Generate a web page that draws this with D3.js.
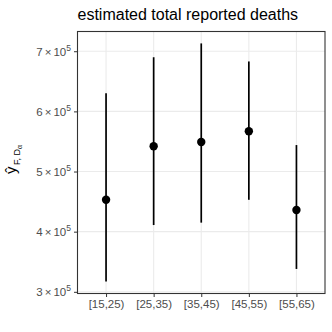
<!DOCTYPE html>
<html>
<head>
<meta charset="utf-8">
<script src="https://cdn.jsdelivr.net/npm/d3@7"></script>
<style>
  body { margin: 0; background: #fff; }
  text { font-family: "Liberation Sans", Arial, sans-serif; }
</style>
</head>
<body>
<div id="chart"></div>
<script>
// age groups and estimated deaths (point, lower, upper)
const ageGroups = ["[15,25)", "[25,35)", "[35,45)", "[45,55)", "[55,65)"];
const estimate = [453000, 542000, 549000, 567000, 436000];
const lower = [317000, 411000, 415000, 453000, 338000];
const upper = [630000, 690000, 713000, 683000, 544000];
const yTicks = [300000, 400000, 500000, 600000, 700000];

const width = 332, height = 332;
const panel = { left: 77.5, right: 325, top: 31.5, bottom: 293.5 };

const svg = d3.select("#chart").append("svg")
    .attr("width", width)
    .attr("height", height);

// ggplot style 5% expansion of the data range
const lo = d3.min(lower), hi = d3.max(upper);
const pad = (hi - lo) * 0.05;
const y = d3.scaleLinear()
    .domain([lo - pad, hi + pad])
    .range([panel.bottom, panel.top]);

const x = d3.scalePoint()
    .domain(ageGroups)
    .range([panel.left, panel.right])
    .padding(0.6);

// grid
const grid = svg.append("g");
grid.selectAll(".gy")
    .data(yTicks)
    .enter().append("line")
    .attr("x1", panel.left).attr("x2", panel.right)
    .attr("y1", d => y(d)).attr("y2", d => y(d))
    .attr("stroke", "#EBEBEB").attr("stroke-width", 1.1);
grid.selectAll(".gx")
    .data(ageGroups)
    .enter().append("line")
    .attr("x1", d => x(d)).attr("x2", d => x(d))
    .attr("y1", panel.top).attr("y2", panel.bottom)
    .attr("stroke", "#EBEBEB").attr("stroke-width", 1.1);

// axes
const yAxis = svg.append("g")
    .attr("transform", `translate(${panel.left},0)`)
    .call(d3.axisLeft(y).tickValues(yTicks).tickSize(3.5).tickPadding(3).tickFormat(""));
yAxis.select(".domain").remove();
yAxis.selectAll(".tick line").attr("stroke", "#333333").attr("stroke-width", 1);
yAxis.selectAll(".tick text")
    .attr("fill", "#4D4D4D")
    .attr("font-size", 11.5)
    .attr("dy", "0.36em")
    .each(function (d) {
        const t = d3.select(this);
        t.append("tspan").text(d / 100000);
        t.append("tspan").attr("dx", 2).text("\u00D7");
        t.append("tspan").attr("dx", 2).text("10");
        t.append("tspan").attr("font-size", 8.5).attr("dy", "-0.6em").text("5");
    });

const xAxis = svg.append("g")
    .attr("transform", `translate(0,${panel.bottom})`)
    .call(d3.axisBottom(x).tickSize(3.5).tickPadding(3));
xAxis.select(".domain").remove();
xAxis.selectAll(".tick line").attr("stroke", "#333333").attr("stroke-width", 1);
xAxis.selectAll(".tick text")
    .attr("fill", "#4D4D4D")
    .attr("font-size", 11.5)
    .attr("font-family", "Liberation Sans, Arial, sans-serif");

// error bars
svg.selectAll(".bar")
    .data(ageGroups)
    .enter().append("line")
    .attr("x1", d => x(d)).attr("x2", d => x(d))
    .attr("y1", (d, i) => y(lower[i]))
    .attr("y2", (d, i) => y(upper[i]))
    .attr("stroke", "#000")
    .attr("stroke-width", 1.7);

svg.selectAll(".pt")
    .data(ageGroups)
    .enter().append("circle")
    .attr("cx", d => x(d))
    .attr("cy", (d, i) => y(estimate[i]))
    .attr("r", 4.2)
    .attr("fill", "#000");

// panel border
svg.append("rect")
    .attr("x", panel.left).attr("y", panel.top)
    .attr("width", panel.right - panel.left)
    .attr("height", panel.bottom - panel.top)
    .attr("fill", "none")
    .attr("stroke", "#333333")
    .attr("stroke-width", 1.1);

// title
svg.append("text")
    .attr("x", panel.left)
    .attr("y", 20)
    .attr("font-size", 16)
    .attr("fill", "#000")
    .text("estimated total reported deaths");

// y axis title: y-hat with subscript F, D_alpha
const yt = svg.append("text")
    .attr("transform", "translate(16,174) rotate(-90)")
    .attr("font-size", 15)
    .attr("fill", "#000");
yt.append("tspan").text("\u0177");
yt.append("tspan").attr("font-size", 9).attr("dy", 4).attr("dx", 1.5).text("F, D");
yt.append("tspan").attr("font-size", 7).attr("dy", 2).text("\u03B1");
</script>
</body>
</html>
